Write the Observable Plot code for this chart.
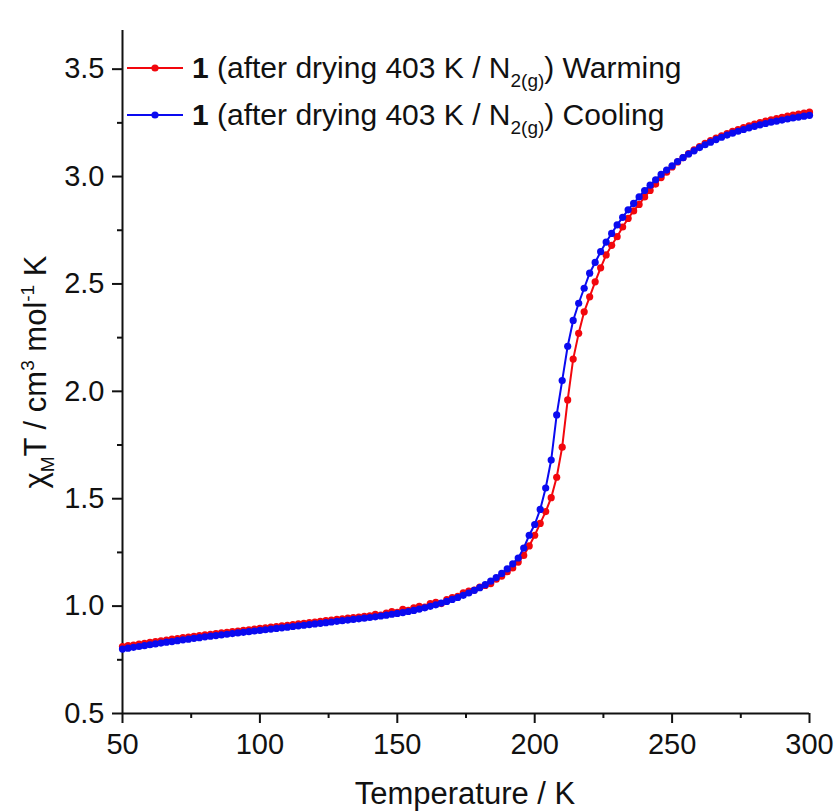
<!DOCTYPE html>
<html>
<head>
<meta charset="utf-8">
<script src="https://cdn.jsdelivr.net/npm/d3@7"></script>
<script src="https://cdn.jsdelivr.net/npm/@observablehq/plot@0.6"></script>
<style>
  html, body { margin: 0; padding: 0; background: #fff; }
  svg { display: block; }
</style>
</head>
<body>
<script>
// Temperatures (K)
const temps = [50,52,54,56,58,60,62,64,66,68,70,72,74,76,78,80,82,84,86,88,90,92,94,96,98,
  100,102,104,106,108,110,112,114,116,118,120,122,124,126,128,130,132,134,136,138,140,142,144,146,148,
  150,152,154,156,158,160,162,164,166,168,170,172,174,176,178,180,182,184,186,188,190,192,194,196,198,
  200,202,204,206,208,210,212,214,216,218,220,222,224,226,228,230,232,234,236,238,240,242,244,246,248,
  250,252,254,256,258,260,262,264,266,268,270,272,274,276,278,280,282,284,286,288,290,292,294,296,298,300];

// Warming series χMT (cm3 mol-1 K)
const warming = [0.812,0.816,0.819,0.823,0.827,0.831,0.835,0.838,0.842,0.846,0.849,0.853,0.856,0.859,0.863,0.866,0.869,0.872,0.875,0.878,0.881,0.884,0.887,0.890,0.893,
  0.896,0.899,0.902,0.905,0.908,0.911,0.914,0.917,0.920,0.923,0.926,0.929,0.932,0.935,0.938,0.941,0.944,0.946,0.949,0.952,0.955,0.962,0.958,0.968,0.975,
  0.971,0.985,0.980,0.992,0.999,0.995,1.012,1.018,1.012,1.030,1.040,1.045,1.062,1.070,1.075,1.088,1.096,1.105,1.125,1.140,1.160,1.178,1.205,1.236,1.280,
  1.330,1.385,1.440,1.505,1.600,1.740,1.960,2.150,2.270,2.370,2.440,2.510,2.575,2.635,2.680,2.720,2.765,2.805,2.840,2.870,2.905,2.935,2.965,2.995,3.020,
  3.045,3.068,3.088,3.107,3.124,3.140,3.154,3.167,3.179,3.190,3.200,3.210,3.219,3.228,3.236,3.244,3.251,3.258,3.264,3.270,3.276,3.281,3.286,3.291,3.295,3.300];

// Cooling series χMT (cm3 mol-1 K)
const cooling = [0.800,0.804,0.808,0.812,0.816,0.820,0.824,0.828,0.832,0.835,0.839,0.843,0.846,0.850,0.853,0.857,0.860,0.863,0.866,0.869,0.872,0.875,0.878,0.881,0.884,
  0.887,0.890,0.893,0.896,0.899,0.902,0.905,0.908,0.911,0.914,0.917,0.920,0.923,0.926,0.929,0.932,0.935,0.938,0.941,0.944,0.947,0.950,0.954,0.958,0.962,
  0.966,0.970,0.975,0.980,0.986,0.992,0.999,1.006,1.014,1.022,1.031,1.040,1.050,1.061,1.073,1.086,1.100,1.116,1.133,1.152,1.173,1.197,1.224,1.270,1.330,
  1.380,1.450,1.550,1.680,1.890,2.050,2.210,2.330,2.410,2.480,2.550,2.600,2.650,2.695,2.735,2.775,2.810,2.845,2.875,2.905,2.935,2.960,2.985,3.010,3.030,
  3.050,3.070,3.088,3.105,3.120,3.135,3.148,3.160,3.172,3.183,3.193,3.202,3.211,3.219,3.227,3.234,3.241,3.247,3.253,3.258,3.263,3.268,3.273,3.277,3.281,3.285];

const xMajor = [50,100,150,200,250,300];
const xMinor = [75,125,175,225,275];
const yMajor = [0.5,1.0,1.5,2.0,2.5,3.0,3.5];
const yMinor = [0.75,1.25,1.75,2.25,2.75,3.25];

const seriesNames = ["Warming", "Cooling"];
const seriesColors = ["#f2070d", "#0a0af0"];

const warmData = temps.map((t, i) => ({T: t, v: warming[i]}));
const coolData = temps.map((t, i) => ({T: t, v: cooling[i]}));

const font = "'Liberation Sans', Arial, sans-serif";

const svg = Plot.plot({
  width: 835,
  height: 812,
  marginLeft: 122,
  marginRight: 26,
  marginTop: 30,
  marginBottom: 99,
  style: {fontFamily: font, fontSize: "29px", color: "#111", background: "#fff"},
  x: {domain: [50, 300]},
  y: {domain: [0.5, 3.68]},
  marks: [
    Plot.axisX(xMajor, {tickSize: 10, strokeWidth: 2, tickPadding: 10, fontSize: 29, tickFormat: d => String(d), label: null}),
    Plot.axisX(xMinor, {tickSize: 5, strokeWidth: 2, tickFormat: () => "", label: null}),
    Plot.axisY(yMajor, {tickSize: 10, strokeWidth: 2, tickPadding: 8, fontSize: 29, tickFormat: d3.format(".1f"), label: null}),
    Plot.axisY(yMinor, {tickSize: 5, strokeWidth: 2, tickFormat: () => "", label: null}),
    Plot.ruleX([50], {stroke: "#111", strokeWidth: 2}),
    Plot.ruleY([0.5], {stroke: "#111", strokeWidth: 2}),
    Plot.line(warmData, {x: "T", y: "v", stroke: seriesColors[0], strokeWidth: 2}),
    Plot.dot(warmData, {x: "T", y: "v", r: 3.6, fill: seriesColors[0], stroke: "none"}),
    Plot.line(coolData, {x: "T", y: "v", stroke: seriesColors[1], strokeWidth: 2}),
    Plot.dot(coolData, {x: "T", y: "v", r: 3.6, fill: seriesColors[1], stroke: "none"})
  ]
});
document.body.appendChild(svg);

const s = d3.select(svg);

// X axis title
s.append("text")
  .attr("x", 465).attr("y", 804)
  .attr("text-anchor", "middle")
  .style("font-family", font).style("font-size", "31px").attr("fill", "#111")
  .text("Temperature / K");

// Y axis title with sub/superscripts
const yl = s.append("text")
  .attr("transform", "translate(46,372) rotate(-90)")
  .attr("text-anchor", "middle")
  .style("font-family", font).style("font-size", "31px").attr("fill", "#111");
yl.append("tspan").text("χ");
yl.append("tspan").attr("dy", 8).style("font-size", "19px").text("M");
yl.append("tspan").attr("dy", -8).text("T / cm");
yl.append("tspan").attr("dy", -12).style("font-size", "19px").text("3");
yl.append("tspan").attr("dy", 12).text(" mol");
yl.append("tspan").attr("dy", -12).style("font-size", "19px").text("-1");
yl.append("tspan").attr("dy", 12).text(" K");

// Legend
const legendY = [68, 115];
seriesNames.forEach((name, i) => {
  const g = s.append("g");
  g.append("line").attr("x1", 127).attr("x2", 183).attr("y1", legendY[i]).attr("y2", legendY[i])
    .attr("stroke", seriesColors[i]).attr("stroke-width", 2);
  g.append("circle").attr("cx", 155).attr("cy", legendY[i]).attr("r", 3.6).attr("fill", seriesColors[i]);
  const t = g.append("text").attr("x", 192).attr("y", legendY[i] + 10)
    .attr("text-anchor", "start")
    .style("font-family", font).style("font-size", "30px").attr("fill", "#111");
  t.append("tspan").style("font-weight", "bold").text("1");
  t.append("tspan").text(" (after drying 403 K / N");
  t.append("tspan").attr("dy", 9).style("font-size", "19px").text("2(g)");
  t.append("tspan").attr("dy", -9).text(") " + name);
});
</script>
</body>
</html>
